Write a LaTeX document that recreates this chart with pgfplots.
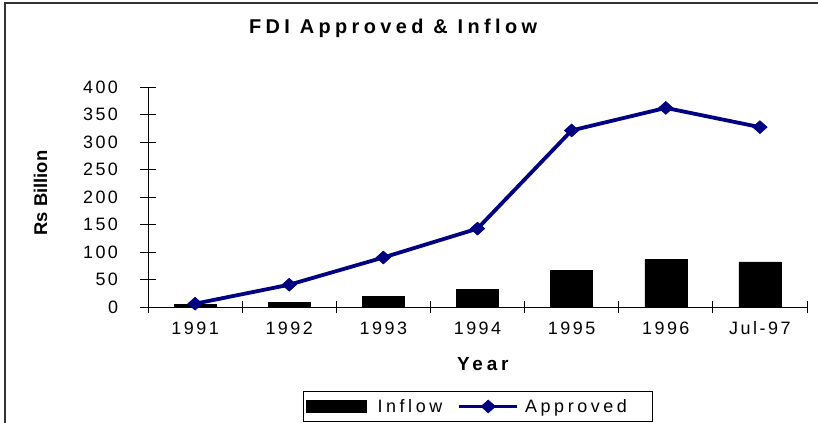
\documentclass[border=0pt]{standalone}
\usepackage{pgfplots}
\pgfplotsset{compat=1.18}
\usepackage{fontspec}
\setmainfont{Liberation Sans}
\newfontfamily\tickfont[LetterSpace=14]{Liberation Sans}
\newfontfamily\legfont[LetterSpace=20]{Liberation Sans}
\newfontfamily\titlefont[LetterSpace=22]{Liberation Sans}
\definecolor{navy}{RGB}{0,0,128}
\pgfplotsset{
  barlegend/.style={legend image code/.code={\fill[black] (0bp,-6bp) rectangle (60bp,6bp);}},
  linelegend/.style={legend image code/.code={\draw[mark repeat=2,mark phase=2,##1] plot coordinates {(0bp,0bp) (29bp,0bp) (58bp,0bp)};}},
}
\begin{document}
\begin{tikzpicture}
\useasboundingbox (0bp,0bp) rectangle (818bp,423bp);
\draw[line width=1.5bp, black!80] (5bp,-20bp) -- (5bp,420bp) -- (840bp,420bp);
\begin{axis}[
  at={(148bp,116bp)}, anchor=south west,
  scale only axis, width=659bp, height=220bp,
  xmin=0, xmax=7, ymin=0, ymax=400,
  axis lines*=left,
  axis line style={line width=0.8bp, black},
  /pgf/number format/assume math mode=true,
  tick label style={font=\fontsize{18}{21}\selectfont\tickfont},
  xtick={0.5,1.5,2.5,3.5,4.5,5.5,6.5},
  xticklabels={1991,1992,1993,1994,1995,1996,Jul-97},
  major x tick style={draw=none},
  minor xtick={0,1,2,3,4,5,6,7},
  minor x tick style={line width=0.8bp, black},
  minor tick length=12bp,
  xtick align=center,
  xticklabel style={anchor=base, yshift=-19bp},
  ytick={0,50,100,150,200,250,300,350,400},
  ytick align=center,
  major y tick style={line width=0.8bp, black},
  major tick length=17bp,
  yticklabel style={anchor=east, xshift=-18bp},
  title={\titlefont\bfseries FDI Approved \& Inflow},
  title style={at={(axis description cs:0.372,1.214)}, anchor=base, yshift=0pt, font=\fontsize{20}{24}\selectfont},
  xlabel={\legfont\bfseries Year},
  xlabel style={at={(axis description cs:0.508,-0.259)}, anchor=center, font=\fontsize{19}{22}\selectfont},
  ylabel={\bfseries Rs Billion},
  ylabel style={at={(axis description cs:-0.163,0.518)}, anchor=center, font=\fontsize{18.5}{22}\selectfont},
  legend style={at={(axis description cs:0.5,-0.452)}, anchor=center, legend columns=2,
    draw=black, line width=0.8bp, font=\fontsize{18}{21}\selectfont\legfont,
    inner xsep=3bp, inner ysep=6bp,
    /tikz/every odd column/.append style={column sep=9bp},
    /tikz/every even column/.append style={column sep=13bp}},
  legend cell align=left,
  clip=false,
]
\addplot[ybar, bar width=0.446, fill=black, draw=black, line width=0.5bp, barlegend]
  coordinates {(0.5,5) (1.5,8.5) (2.5,19) (3.5,31.5) (4.5,66) (5.5,86) (6.5,82)};
\addlegendentry{Inflow}
\addplot[navy, line width=3.8bp, mark=diamond*,
  mark size=6.5bp, mark options={xscale=1.5, solid, fill=navy, draw=navy, line width=0.5bp},
  linelegend]
  coordinates {(0.5,6) (1.5,40.5) (2.5,90) (3.5,142.5) (4.5,321) (5.5,362) (6.5,327)};
\addlegendentry{\kern-5bp Approved\kern20bp}
\end{axis}
\end{tikzpicture}
\end{document}
